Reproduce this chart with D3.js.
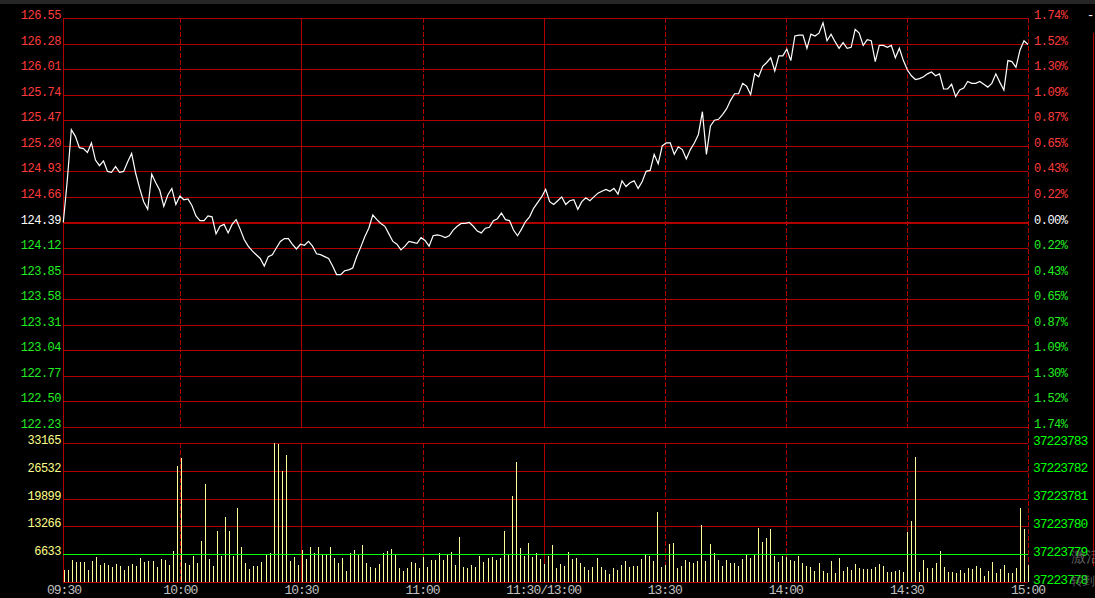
<!DOCTYPE html>
<html><head><meta charset="utf-8">
<script src="https://cdn.jsdelivr.net/npm/d3@7/dist/d3.min.js"></script>
<style>body{margin:0;background:#000;overflow:hidden}text{font-family:"Liberation Mono","DejaVu Sans Mono",monospace}</style>
</head><body><svg id="c" width="1095" height="598"></svg>
<script>
// ---------------- DATA ----------------
const prevClose = 124.39;
const priceTicks = [126.55,126.28,126.01,125.74,125.47,125.20,124.93,124.66,124.39,124.12,123.85,123.58,123.31,123.04,122.77,122.50,122.23];
const pctTicks = ["1.74%","1.52%","1.30%","1.09%","0.87%","0.65%","0.43%","0.22%","0.00%","0.22%","0.43%","0.65%","0.87%","1.09%","1.30%","1.52%","1.74%"];
const volTicksLeft = [33165,26532,19899,13266,6633];
const volTicksRight = ["37223783","37223782","37223781","37223780","37223779","37223778"];
const timeLabels = ["09:30","10:00","10:30","11:00","11:30/13:00","13:30","14:00","14:30","15:00"];
const timeIndex = [0,29,59,89,119,149,179,209,239];
const solidMarks = [59,119];

// price per minute, 09:30 .. 15:00 (241 points)
const prices = [
124.39,124.84,125.37,125.30,125.18,125.17,125.13,125.23,125.05,124.99,
125.04,124.93,124.92,124.98,124.92,124.93,125.03,125.12,124.91,124.75,
124.61,124.53,124.90,124.81,124.73,124.56,124.68,124.75,124.58,124.67,
124.63,124.64,124.57,124.46,124.41,124.41,124.46,124.45,124.27,124.35,
124.37,124.28,124.37,124.42,124.32,124.21,124.14,124.09,124.05,124.01,
123.93,124.03,124.05,124.12,124.19,124.22,124.22,124.16,124.11,124.16,
124.15,124.19,124.14,124.06,124.05,124.03,124.01,123.93,123.84,123.84,
123.88,123.89,123.91,124.03,124.13,124.24,124.33,124.47,124.42,124.38,
124.35,124.27,124.19,124.16,124.10,124.14,124.19,124.18,124.17,124.23,
124.20,124.14,124.25,124.26,124.25,124.23,124.25,124.31,124.35,124.38,
124.38,124.39,124.35,124.30,124.28,124.33,124.34,124.41,124.43,124.49,
124.42,124.41,124.31,124.25,124.32,124.40,124.45,124.54,124.60,124.66,
124.74,124.61,124.58,124.62,124.66,124.58,124.62,124.63,124.53,124.61,
124.65,124.62,124.66,124.70,124.72,124.74,124.72,124.75,124.69,124.83,
124.77,124.81,124.83,124.75,124.82,124.93,124.94,125.11,125.01,125.20,
125.23,125.23,125.11,125.19,125.16,125.06,125.16,125.23,125.32,125.56,
125.11,125.41,125.47,125.48,125.53,125.59,125.68,125.75,125.75,125.86,
125.83,125.74,125.96,125.93,126.04,126.08,126.13,125.99,126.15,126.15,
126.22,126.10,126.36,126.37,126.37,126.23,126.38,126.36,126.39,126.50,
126.31,126.38,126.30,126.23,126.29,126.23,126.24,126.43,126.39,126.26,
126.32,126.31,126.09,126.26,126.26,126.24,126.26,126.13,126.23,126.10,
126.00,125.94,125.90,125.91,125.93,125.96,125.98,125.94,125.96,125.80,
125.80,125.85,125.72,125.79,125.81,125.88,125.86,125.86,125.88,125.85,
125.82,125.86,125.96,125.87,125.79,126.10,126.09,126.03,126.21,126.31,
126.27
];

// volume per minute, 09:31 .. 15:00 (240 bars)
const volumes = [
2940,2940,5330,4850,4690,4690,2940,5090,6040,3980,
4610,4130,3500,4370,3740,2940,3740,4370,3740,5800,
4850,5090,5090,3500,5570,5330,3980,7470,27750,29650,
4530,3980,6280,4610,9860,23450,5570,3740,12240,6280,
15500,12240,6280,17730,8430,4610,3180,3900,3900,4850,
6520,7000,33165,32990,26390,30370,5090,6040,4130,7710,
5570,8430,7000,8430,6520,6520,8430,5800,4610,5800,
2700,7000,7710,6520,8900,4610,3660,3420,4370,7000,
7470,7950,6520,3420,2700,3420,4850,4610,3420,6040,
3660,5330,5330,7000,5330,6520,7230,4130,10810,3660,
3420,4130,3660,6280,4850,5800,6040,5330,5800,12240,
6520,20590,28700,8190,6280,9380,6040,7000,5570,4370,
6280,8900,3420,4370,3900,7230,5570,5800,4610,3660,
2940,3660,5800,3660,2940,1990,3420,2940,4130,5090,
3660,3900,3900,5570,6520,6280,5090,16770,3660,4130,
9140,9380,3420,3900,5330,4850,4610,5090,13670,5090,
9140,7000,5330,3900,5330,4610,4610,3900,5570,6520,
5800,6520,12960,9620,10570,12720,6280,4850,6280,6040,
5330,5090,6280,4610,3900,3660,2700,4610,2700,2230,
5090,2230,5800,2700,3660,2940,4370,3420,3180,3180,
3180,3660,4370,3900,2460,2460,2700,2940,2460,12000,
14630,29890,2460,5330,3420,3420,4610,7470,3660,2460,
2460,2230,2940,2230,3420,3180,3900,3420,1510,2700,
4850,2230,3180,4130,2230,2230,3420,17730,12720,4130
];

// ---------------- DRAW ----------------
const svg = d3.select("#c");
const L = 63, R = 1028, PT = 18, PB = 427, VT = 443, VB = 582;
const GRID = "#b00000", RED = "#ff3c3c", GREEN = "#22ee22";

const xb = d3.scaleLinear().domain([0, 239]).range([63.3, 1028]);
const xp = d3.scaleLinear().domain([0, prices.length - 1]).range([63.3, 1028]);
const yP = d3.scaleLinear().domain([122.23, 126.55]).range([PB, PT]);
const yV = d3.scaleLinear().domain([0, 33165]).range([VB, VT]);

svg.append("rect").attr("width", 1095).attr("height", 598).attr("fill", "#000");
svg.append("rect").attr("width", 1095).attr("height", 4).attr("fill", "#262626");

const g = svg.append("g").attr("shape-rendering", "crispEdges");

// price horizontal grid
g.selectAll(".hp").data(priceTicks).join("line")
  .attr("x1", L).attr("x2", R)
  .attr("y1", d => Math.round(yP(d)) + (d === prevClose ? 0 : 0.5))
  .attr("y2", d => Math.round(yP(d)) + (d === prevClose ? 0 : 0.5))
  .attr("stroke", GRID).attr("stroke-width", d => d === prevClose ? 2 : 1.4);

// volume horizontal grid (red)
g.selectAll(".hv").data([33165, 26532, 19899, 13266, 0]).join("line")
  .attr("x1", L).attr("x2", R)
  .attr("y1", d => Math.round(yV(d)) + 0.5).attr("y2", d => Math.round(yV(d)) + 0.5)
  .attr("stroke", GRID).attr("stroke-width", 1.4);

// vertical time lines
timeIndex.slice(1, -1).forEach(k => {
  const x = Math.round(xb(k)) + 0.5;
  const solid = solidMarks.includes(k);
  [[PT, PB], [VT, VB]].forEach(([a, b]) => {
    g.append("line").attr("x1", x).attr("x2", x).attr("y1", a).attr("y2", b)
      .attr("stroke", GRID).attr("stroke-width", 1)
      .attr("stroke-dasharray", solid ? null : "5,2");
  });
});
// frame
g.append("line").attr("x1", L + 0.5).attr("x2", L + 0.5).attr("y1", PT).attr("y2", VB).attr("stroke", GRID).attr("stroke-width", 1.4);
g.append("line").attr("x1", Math.round(xb(239)) + 0.5).attr("x2", Math.round(xb(239)) + 0.5).attr("y1", PT).attr("y2", VB)
  .attr("stroke", GRID).attr("stroke-width", 1).attr("stroke-dasharray", "5,2");
// far right red line
g.append("line").attr("x1", 1093.5).attr("x2", 1093.5).attr("y1", 33).attr("y2", 566).attr("stroke", "#c00000").attr("stroke-width", 1.5);

// volume bars
g.selectAll(".bar").data(volumes).join("rect")
  .attr("x", (d, i) => Math.round(xb(i) + 0.4))
  .attr("width", 1)
  .attr("y", d => yV(d))
  .attr("height", d => VB - yV(d))
  .attr("fill", "#ffff99");

// average volume line (green)
g.append("line").attr("x1", L).attr("x2", R)
  .attr("y1", Math.round(yV(6633)) + 0.5).attr("y2", Math.round(yV(6633)) + 0.5)
  .attr("stroke", "#00ff00").attr("stroke-width", 1.5);

// price line
svg.append("path").datum(prices)
  .attr("d", d3.line().x((d, i) => xp(i)).y(d => yP(d)))
  .attr("fill", "none").attr("stroke", "#ffffff").attr("stroke-width", 1.2);

// axis labels
const lab = svg.append("g").attr("font-size", 12).attr("letter-spacing", -0.5);
lab.selectAll(".lp").data(priceTicks).join("text")
  .attr("x", 61).attr("y", d => yP(d) + 1).attr("text-anchor", "end")
  .attr("fill", d => d > prevClose ? RED : d < prevClose ? GREEN : "#ffffff")
  .text(d => d.toFixed(2));
lab.selectAll(".rp").data(pctTicks).join("text")
  .attr("x", 1034).attr("y", (d, i) => yP(priceTicks[i]) + 1)
  .attr("fill", (d, i) => priceTicks[i] > prevClose ? RED : priceTicks[i] < prevClose ? GREEN : "#ffffff")
  .text(d => d);
lab.selectAll(".lv").data(volTicksLeft).join("text")
  .attr("x", 61).attr("y", d => yV(d) + 1).attr("text-anchor", "end")
  .attr("fill", "#ffff88").text(d => d);

const lab2 = svg.append("g").attr("font-size", 13).attr("letter-spacing", -1);
const volRightVals = [33165, 26532, 19899, 13266, 6633, 0];
lab2.selectAll(".rv").data(volTicksRight).join("text")
  .attr("x", 1033).attr("y", (d, i) => yV(volRightVals[i]) + 1.5)
  .attr("fill", "#00ff00").text(d => d);
lab2.selectAll(".tl").data(timeLabels).join("text")
  .attr("x", (d, i) => i === 0 ? L + 1 : xb(timeIndex[i]))
  .attr("y", 594).attr("text-anchor", "middle")
  .attr("fill", "#c0c0c0").text(d => d);

svg.append("text").attr("x", 1087).attr("y", 19).attr("fill", "#ffffff").attr("font-size", 12).text("-");

// watermark
svg.append("text").attr("x", 1071).attr("y", 562).attr("fill", "#7a7a7a").attr("font-size", 15)
  .attr("font-family", "Noto Sans CJK SC").attr("opacity", 0.8).text("激活");
svg.append("text").attr("x", 1071).attr("y", 585).attr("fill", "#7a7a7a").attr("font-size", 12)
  .attr("font-family", "Noto Sans CJK SC").attr("opacity", 0.8).text("转到");
</script></body></html>
